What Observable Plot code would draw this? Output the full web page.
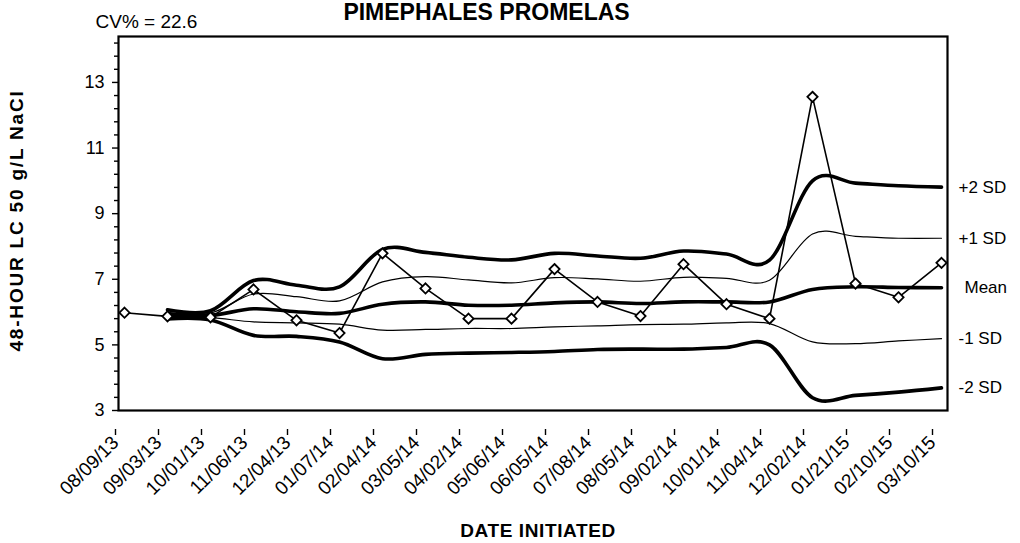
<!DOCTYPE html>
<html><head><meta charset="utf-8">
<script src="https://cdn.jsdelivr.net/npm/d3@7"></script>
<script src="https://cdn.jsdelivr.net/npm/@observablehq/plot@0.6"></script>
<style>
body{margin:0;background:#fff;}
#chart svg{font-family:"Liberation Sans",Arial,sans-serif;}
</style>
</head><body><div id="chart"></div>
<script>
const titleText = "PIMEPHALES PROMELAS";
const cvText = "CV% = 22.6";
const xTitle = "DATE INITIATED";
const yTitle = "48-HOUR LC 50 g/L NaCl";

const dates = ["08/09/13","09/03/13","10/01/13","11/06/13","12/04/13","01/07/14","02/04/14","03/05/14","04/02/14","05/06/14","06/05/14","07/08/14","08/05/14","09/02/14","10/01/14","11/04/14","12/02/14","01/21/15","02/10/15","03/10/15"];
const lc50  = [5.98,5.87,5.84,6.69,5.75,5.36,7.79,6.72,5.80,5.80,7.31,6.31,5.88,7.46,6.24,5.80,12.56,6.87,6.45,7.50];
const plus2 = [null,6.07,6.04,6.96,6.82,6.77,7.91,7.82,7.67,7.59,7.79,7.71,7.64,7.86,7.77,7.58,10.00,9.93,9.85,9.81];
const plus1 = [null,5.99,5.97,6.55,6.47,6.34,6.92,7.08,6.98,6.89,7.05,7.01,6.94,7.06,7.03,6.97,8.38,8.31,8.25,8.25];
const meanV = [null,5.93,5.90,6.10,6.01,5.96,6.24,6.31,6.21,6.21,6.28,6.31,6.26,6.31,6.31,6.31,6.69,6.77,6.75,6.74];
const minus1= [null,5.87,5.83,5.70,5.67,5.63,5.45,5.47,5.50,5.50,5.55,5.58,5.62,5.63,5.67,5.65,5.09,5.04,5.12,5.19];
const minus2= [null,5.79,5.76,5.29,5.26,5.09,4.58,4.71,4.75,4.77,4.80,4.86,4.87,4.87,4.92,5.00,3.39,3.46,3.56,3.69];

const seriesNames = ["+2 SD","+1 SD","Mean","-1 SD","-2 SD"];
const seriesValues = [plus2, plus1, meanV, minus1, minus2];

const yTicks = [3,5,7,9,11,13];
const yMinor = [3.4,3.8,4.2,4.6,5.4,5.8,6.2,6.6,7.4,7.8,8.2,8.6,9.4,9.8,10.2,10.6,11.4,11.8,12.2,12.6,13.4,13.8,14.2];

// styles (kept apart from the data)
const widthOf = {"+2 SD":3.6,"+1 SD":1.2,"Mean":3.6,"-1 SD":1.2,"-2 SD":3.6};
const labelDx = {"+2 SD":17,"+1 SD":17,"Mean":23,"-1 SD":17,"-2 SD":17};

const points = dates.map((d,i)=>({date:d, v:lc50[i]}));
const bandRows = seriesNames.map((name,k)=>dates.map((d,i)=>({series:name, date:d, v:seriesValues[k][i]})));
const lastRows = seriesNames.map((name,k)=>({series:name, date:dates[dates.length-1], v:seriesValues[k][dates.length-1]}));

const marks = [
  Plot.axisY({ticks: yMinor, tickSize: 4, tickFormat: () => "", strokeWidth: 1.4, label: null}),
  Plot.axisY({ticks: yTicks, tickSize: 6, tickPadding: 8, fontSize: 18, strokeWidth: 1.4, label: null}),
  Plot.axisX({tickSize: 6, tickRotate: -45, fontSize: 19, tickPadding: 4, dy: 19, dx: -9, strokeWidth: 1.4, label: null}),
  Plot.frame({stroke: "black", strokeWidth: 2.2}),
];
bandRows.forEach(rows => {
  marks.push(Plot.line(rows, {x:"date", y:"v", stroke:"black", strokeWidth: widthOf[rows[0].series], curve:"cardinal", tension:0}));
});
marks.push(
  Plot.line(points, {x:"date", y:"v", stroke:"black", strokeWidth:1.6}),
  Plot.dot(points, {x:"date", y:"v", symbol:"diamond2", r:4.6, fill:"white", stroke:"black", strokeWidth:1.8}),
  ...lastRows.map(r => Plot.text([r], {x:"date", y:"v", text:"series", dx: labelDx[r.series], textAnchor:"start", fontSize:17, fill:"black"})),
  Plot.text([yTitle], {frameAnchor:"left", dx:-102, dy:-3, textAnchor:"middle", lineAnchor:"middle", rotate:-90, fontSize:19, fontWeight:"bold", fill:"black"}),
  Plot.text([xTitle], {frameAnchor:"bottom", dx:5, dy:120, textAnchor:"middle", lineAnchor:"middle", fontSize:19, fontWeight:"bold", fill:"black"}),
  Plot.text([cvText], {frameAnchor:"top-left", dx:-23, dy:-15, textAnchor:"start", lineAnchor:"middle", fontSize:19, fill:"black"}),
  Plot.text([titleText], {frameAnchor:"top-left", dx:368, dy:-17, textAnchor:"middle", lineAnchor:"bottom", fontSize:23, fontWeight:"bold", fill:"black"})
);

const chart = Plot.plot({
  width: 1020, height: 543,
  marginLeft: 118, marginRight: 73, marginTop: 36, marginBottom: 133,
  style: {fontFamily: "Liberation Sans, Arial, sans-serif", color: "black", background: "white", overflow: "visible"},
  x: {type: "point", domain: dates, padding: 0},
  y: {domain: [3, 14.4]},
  marks
});
document.getElementById("chart").append(chart);
// small letter-spacing tweaks on the axis titles
d3.select(chart).selectAll("text").each(function() {
  const t = this.textContent;
  if (t === yTitle) this.setAttribute("letter-spacing", "1.8");
  if (t === xTitle) this.setAttribute("letter-spacing", "0.6");
});
</script>
</body></html>
